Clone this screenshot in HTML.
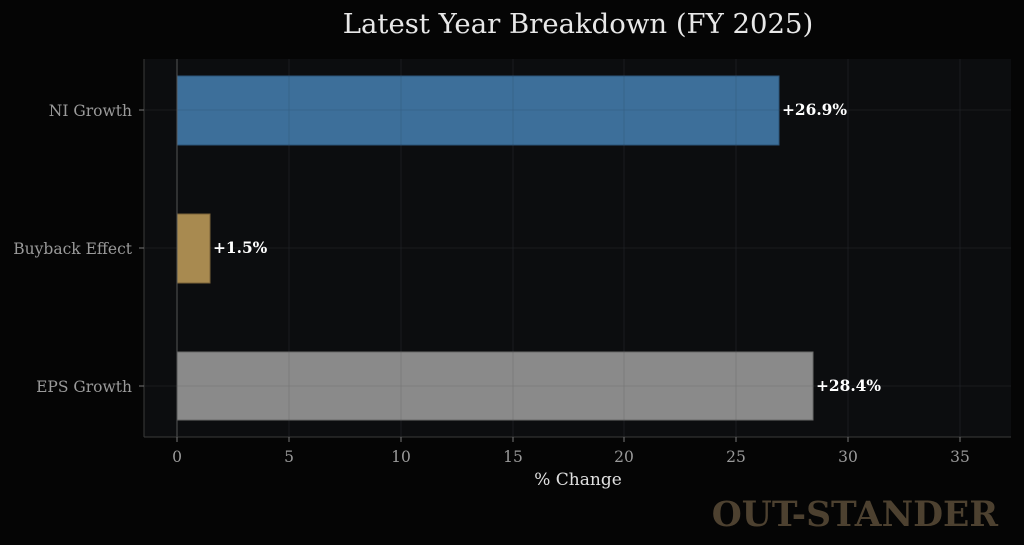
<!DOCTYPE html>
<html><head><meta charset="utf-8"><style>
html,body{margin:0;padding:0;background:#050505;}
svg{display:block;font-family:"DejaVu Serif","Liberation Serif",serif;}
</style></head><body>
<svg width="1024" height="545" viewBox="0 0 1024 545">
<rect width="1024" height="545" fill="#050505"/>
<rect x="144" y="59" width="867" height="378" fill="#0c0d0f"/>
<g stroke="#1f2124" stroke-width="0.8">
<line x1="289" y1="59" x2="289" y2="437"/><line x1="401" y1="59" x2="401" y2="437"/>
<line x1="513" y1="59" x2="513" y2="437"/><line x1="624" y1="59" x2="624" y2="437"/>
<line x1="736" y1="59" x2="736" y2="437"/><line x1="848" y1="59" x2="848" y2="437"/>
<line x1="960" y1="59" x2="960" y2="437"/>
<line x1="144" y1="110" x2="1011" y2="110"/><line x1="144" y1="248" x2="1011" y2="248"/><line x1="144" y1="386" x2="1011" y2="386"/>
</g>
<rect x="177" y="76" width="602" height="69" fill="#3d6f9a" stroke="#2c5478" stroke-width="1"/>
<rect x="177" y="214" width="33" height="69" fill="#a88a50" stroke="#7a6238" stroke-width="1"/>
<rect x="177" y="352" width="636" height="68" fill="#8a8a8a" stroke="#6a6a6a" stroke-width="1"/>
<g stroke="#000" stroke-width="0.8" opacity="0.12">
<line x1="289" y1="76" x2="289" y2="145"/><line x1="401" y1="76" x2="401" y2="145"/><line x1="513" y1="76" x2="513" y2="145"/><line x1="624" y1="76" x2="624" y2="145"/><line x1="736" y1="76" x2="736" y2="145"/>
<line x1="289" y1="352" x2="289" y2="420"/><line x1="401" y1="352" x2="401" y2="420"/><line x1="513" y1="352" x2="513" y2="420"/><line x1="624" y1="352" x2="624" y2="420"/><line x1="736" y1="352" x2="736" y2="420"/>
<line x1="177" y1="110" x2="779" y2="110"/><line x1="177" y1="386" x2="813" y2="386"/>
</g>
<line x1="177" y1="59" x2="177" y2="437" stroke="#555" stroke-width="1"/>
<line x1="144" y1="59" x2="144" y2="437" stroke="#3a3a3a" stroke-width="1"/>
<line x1="144" y1="437" x2="1011" y2="437" stroke="#3a3a3a" stroke-width="1"/>
<g stroke="#777" stroke-width="1">
<line x1="139" y1="110" x2="144" y2="110"/><line x1="139" y1="248" x2="144" y2="248"/><line x1="139" y1="386" x2="144" y2="386"/>
<line x1="177" y1="437" x2="177" y2="442"/><line x1="289" y1="437" x2="289" y2="442"/><line x1="401" y1="437" x2="401" y2="442"/><line x1="513" y1="437" x2="513" y2="442"/><line x1="624" y1="437" x2="624" y2="442"/><line x1="736" y1="437" x2="736" y2="442"/><line x1="848" y1="437" x2="848" y2="442"/><line x1="960" y1="437" x2="960" y2="442"/>
</g>
<g fill="#9a9a9a" font-size="15.5" text-anchor="end">
<text x="132" y="116">NI Growth</text><text x="132" y="254">Buyback Effect</text><text x="132" y="392">EPS Growth</text>
</g>
<g fill="#9a9a9a" font-size="15.5" text-anchor="middle">
<text x="177" y="462">0</text><text x="289" y="462">5</text><text x="401" y="462">10</text><text x="513" y="462">15</text><text x="624" y="462">20</text><text x="736" y="462">25</text><text x="848" y="462">30</text><text x="960" y="462">35</text>
</g>
<text x="578" y="485" fill="#e0e0e0" font-size="17" text-anchor="middle">% Change</text>
<text x="578" y="33" fill="#e8e8e8" font-size="27.5" text-anchor="middle">Latest Year Breakdown (FY 2025)</text>
<g fill="#ffffff" font-size="15.4" font-weight="bold">
<text x="782" y="115">+26.9%</text><text x="213" y="253">+1.5%</text><text x="816" y="391">+28.4%</text>
</g>
<text x="998" y="526" fill="#4d4130" font-size="34.5" font-weight="bold" text-anchor="end">OUT-STANDER</text>
</svg>
</body></html>
